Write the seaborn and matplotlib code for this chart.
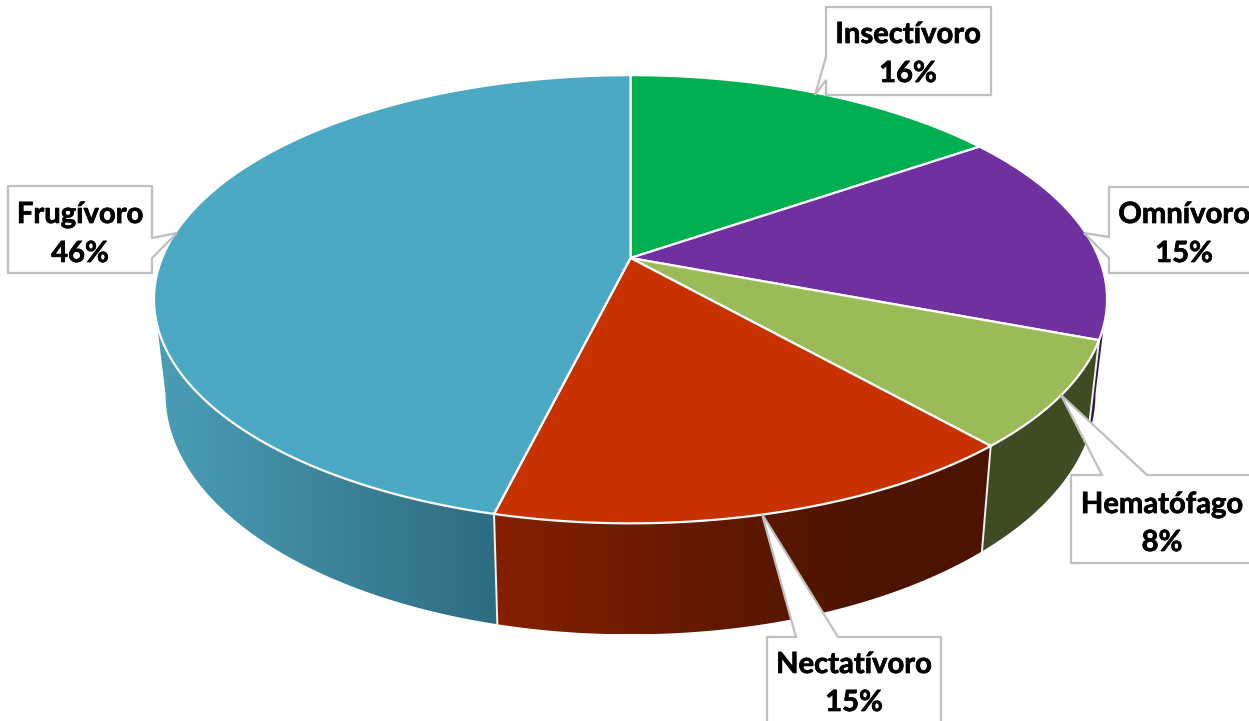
import numpy as np
import pandas as pd
import seaborn as sns
import matplotlib.pyplot as plt
import matplotlib.patheffects as pe
from matplotlib.colors import to_rgb
from matplotlib.patches import Polygon

# counts per diet, the labels show the rounded percentages
categorias = ['Insectívoro', 'Omnívoro', 'Hematófago', 'Nectatívoro', 'Frugívoro']
conteos = [2, 2, 1, 2, 6]
porcentajes = ['16%', '15%', '8%', '15%', '46%']
colores = ['#00B050', '#7030A0', '#9BBB59', '#C83200', '#4BA9C4']

df = pd.DataFrame({'cat': categorias, 'n': conteos, 'pct': porcentajes})
df['fin'] = df['n'].cumsum() / df['n'].sum() * 360
df['ini'] = df['fin'].shift(1).fillna(0)

sns.set_theme(style='white')
plt.rcParams['font.family'] = ['Lato', 'DejaVu Sans']
paleta = sns.color_palette(colores)

fig = plt.figure(figsize=(12.49, 7.21), dpi=100)
ax = fig.add_axes([0, 0, 1, 1])

# camera of the 3D pie
CX = 630.5
K = 0.184
TAPA = (258, 468.4, 216.5)
BASE = (350, 457.0, 232.0)
TAN = np.degrees(np.arccos(-K))  # where the rim turns out of sight


def proyecta(t, plano):
    cy, a, b = plano
    r = np.radians(t)
    den = 1 + K * np.cos(r)
    return CX + a * np.sin(r) / den, cy - b * np.cos(r) / den


# colours of the rim, left and right end of each gradient
lados = {
    'Omnívoro': (1085, 1110, '#2E1A4E', '#2E1A4E'),
    'Hematófago': (980, 1100, '#3F4C23', '#3F4C23'),
    'Nectatívoro': (497, 860, '#842000', '#4C1400'),
    'Frugívoro': (160, 497, '#4A9DB6', '#2E6C80'),
}

for _, s in df.iterrows():
    if s['cat'] not in lados:
        continue
    a0 = max(s['ini'], TAN)
    a1 = min(s['fin'], 360 - TAN)
    ts = np.linspace(a0, a1, 200)
    xt, yt = proyecta(ts, TAPA)
    xb, yb = proyecta(ts[::-1], BASE)
    pts = np.column_stack([np.r_[xt, xb], np.r_[yt, yb]])
    x0, x1, c0, c1 = lados[s['cat']]
    f = np.linspace(0, 1, 256)[:, None]
    grad = (1 - f) * np.array(to_rgb(c0)) + f * np.array(to_rgb(c1))
    xmin, xmax = pts[:, 0].min(), pts[:, 0].max()
    # gradient runs x0..x1 and stays flat past the ends
    xs = np.linspace(xmin, xmax, 512)
    idx = np.clip((xs - x0) / (x1 - x0) * 255, 0, 255).astype(int)
    im = ax.imshow(grad[idx][None, :, :], extent=(xmin, xmax, pts[:, 1].max(), pts[:, 1].min()),
                   aspect='auto', interpolation='bilinear', zorder=1)
    clip = Polygon(pts, closed=True, transform=ax.transData, facecolor='none', edgecolor='none')
    ax.add_patch(clip)
    im.set_clip_path(clip)
    # white line between rim pieces
    if s['fin'] < 360 - TAN:
        xa, ya = proyecta(s['fin'], TAPA)
        xc, yc = proyecta(s['fin'], BASE)
        ax.plot([xa, xc], [ya, yc], color='#F2F2F2', lw=1.4, zorder=2)

ax.set_xlim(0, 1249)
ax.set_ylim(721, 0)
ax.axis('off')

# top face
for i, s in df.iterrows():
    ts = np.linspace(s['ini'], s['fin'], 200)
    xs, ys = proyecta(ts, TAPA)
    ax.fill(np.r_[CX, xs], np.r_[TAPA[0], ys], facecolor=paleta[i],
            edgecolor='white', lw=1.6, joinstyle='round', zorder=3)

# callouts: box outline with its pointer
cajas = {
    'Insectívoro': [(826, 7), (991, 7), (991, 95), (826, 95), (826, 80), (815, 95), (826, 57)],
    'Omnívoro': [(1109, 187), (1256, 187), (1256, 273), (1109, 273), (1109, 258), (1084, 233), (1109, 237)],
    'Hematófago': [(1071, 475), (1102, 475), (1061, 395), (1147, 475), (1256, 475), (1256, 563), (1071, 563)],
    'Nectatívoro': [(767, 637), (796, 637), (762, 514), (838, 637), (941, 637), (941, 730), (767, 730)],
    'Frugívoro': [(8, 186), (152, 186), (152, 238), (177, 233), (152, 258), (152, 273), (8, 273)],
}
textos = {
    'Insectívoro': (908, 35, 74),
    'Omnívoro': (1184, 215, 254),
    'Hematófago': (1162, 505, 543),
    'Nectatívoro': (854, 665, 703),
    'Frugívoro': (80, 215, 254),
}
trazo = [pe.withStroke(linewidth=0.5, foreground='black')]

for _, s in df.iterrows():
    pts = np.array(cajas[s['cat']])
    ax.fill(pts[:, 0], pts[:, 1], facecolor='white', edgecolor='#BFBFBF', lw=1.6, zorder=4)
    x, y1, y2 = textos[s['cat']]
    ax.text(x, y1, s['cat'], ha='center', va='center', fontsize=21, fontweight='bold',
            color='black', zorder=5, path_effects=trazo)
    ax.text(x, y2, s['pct'], ha='center', va='center', fontsize=21, fontweight='bold',
            color='black', zorder=5, path_effects=trazo)

fig.savefig('out.png', dpi=100, facecolor='white')
